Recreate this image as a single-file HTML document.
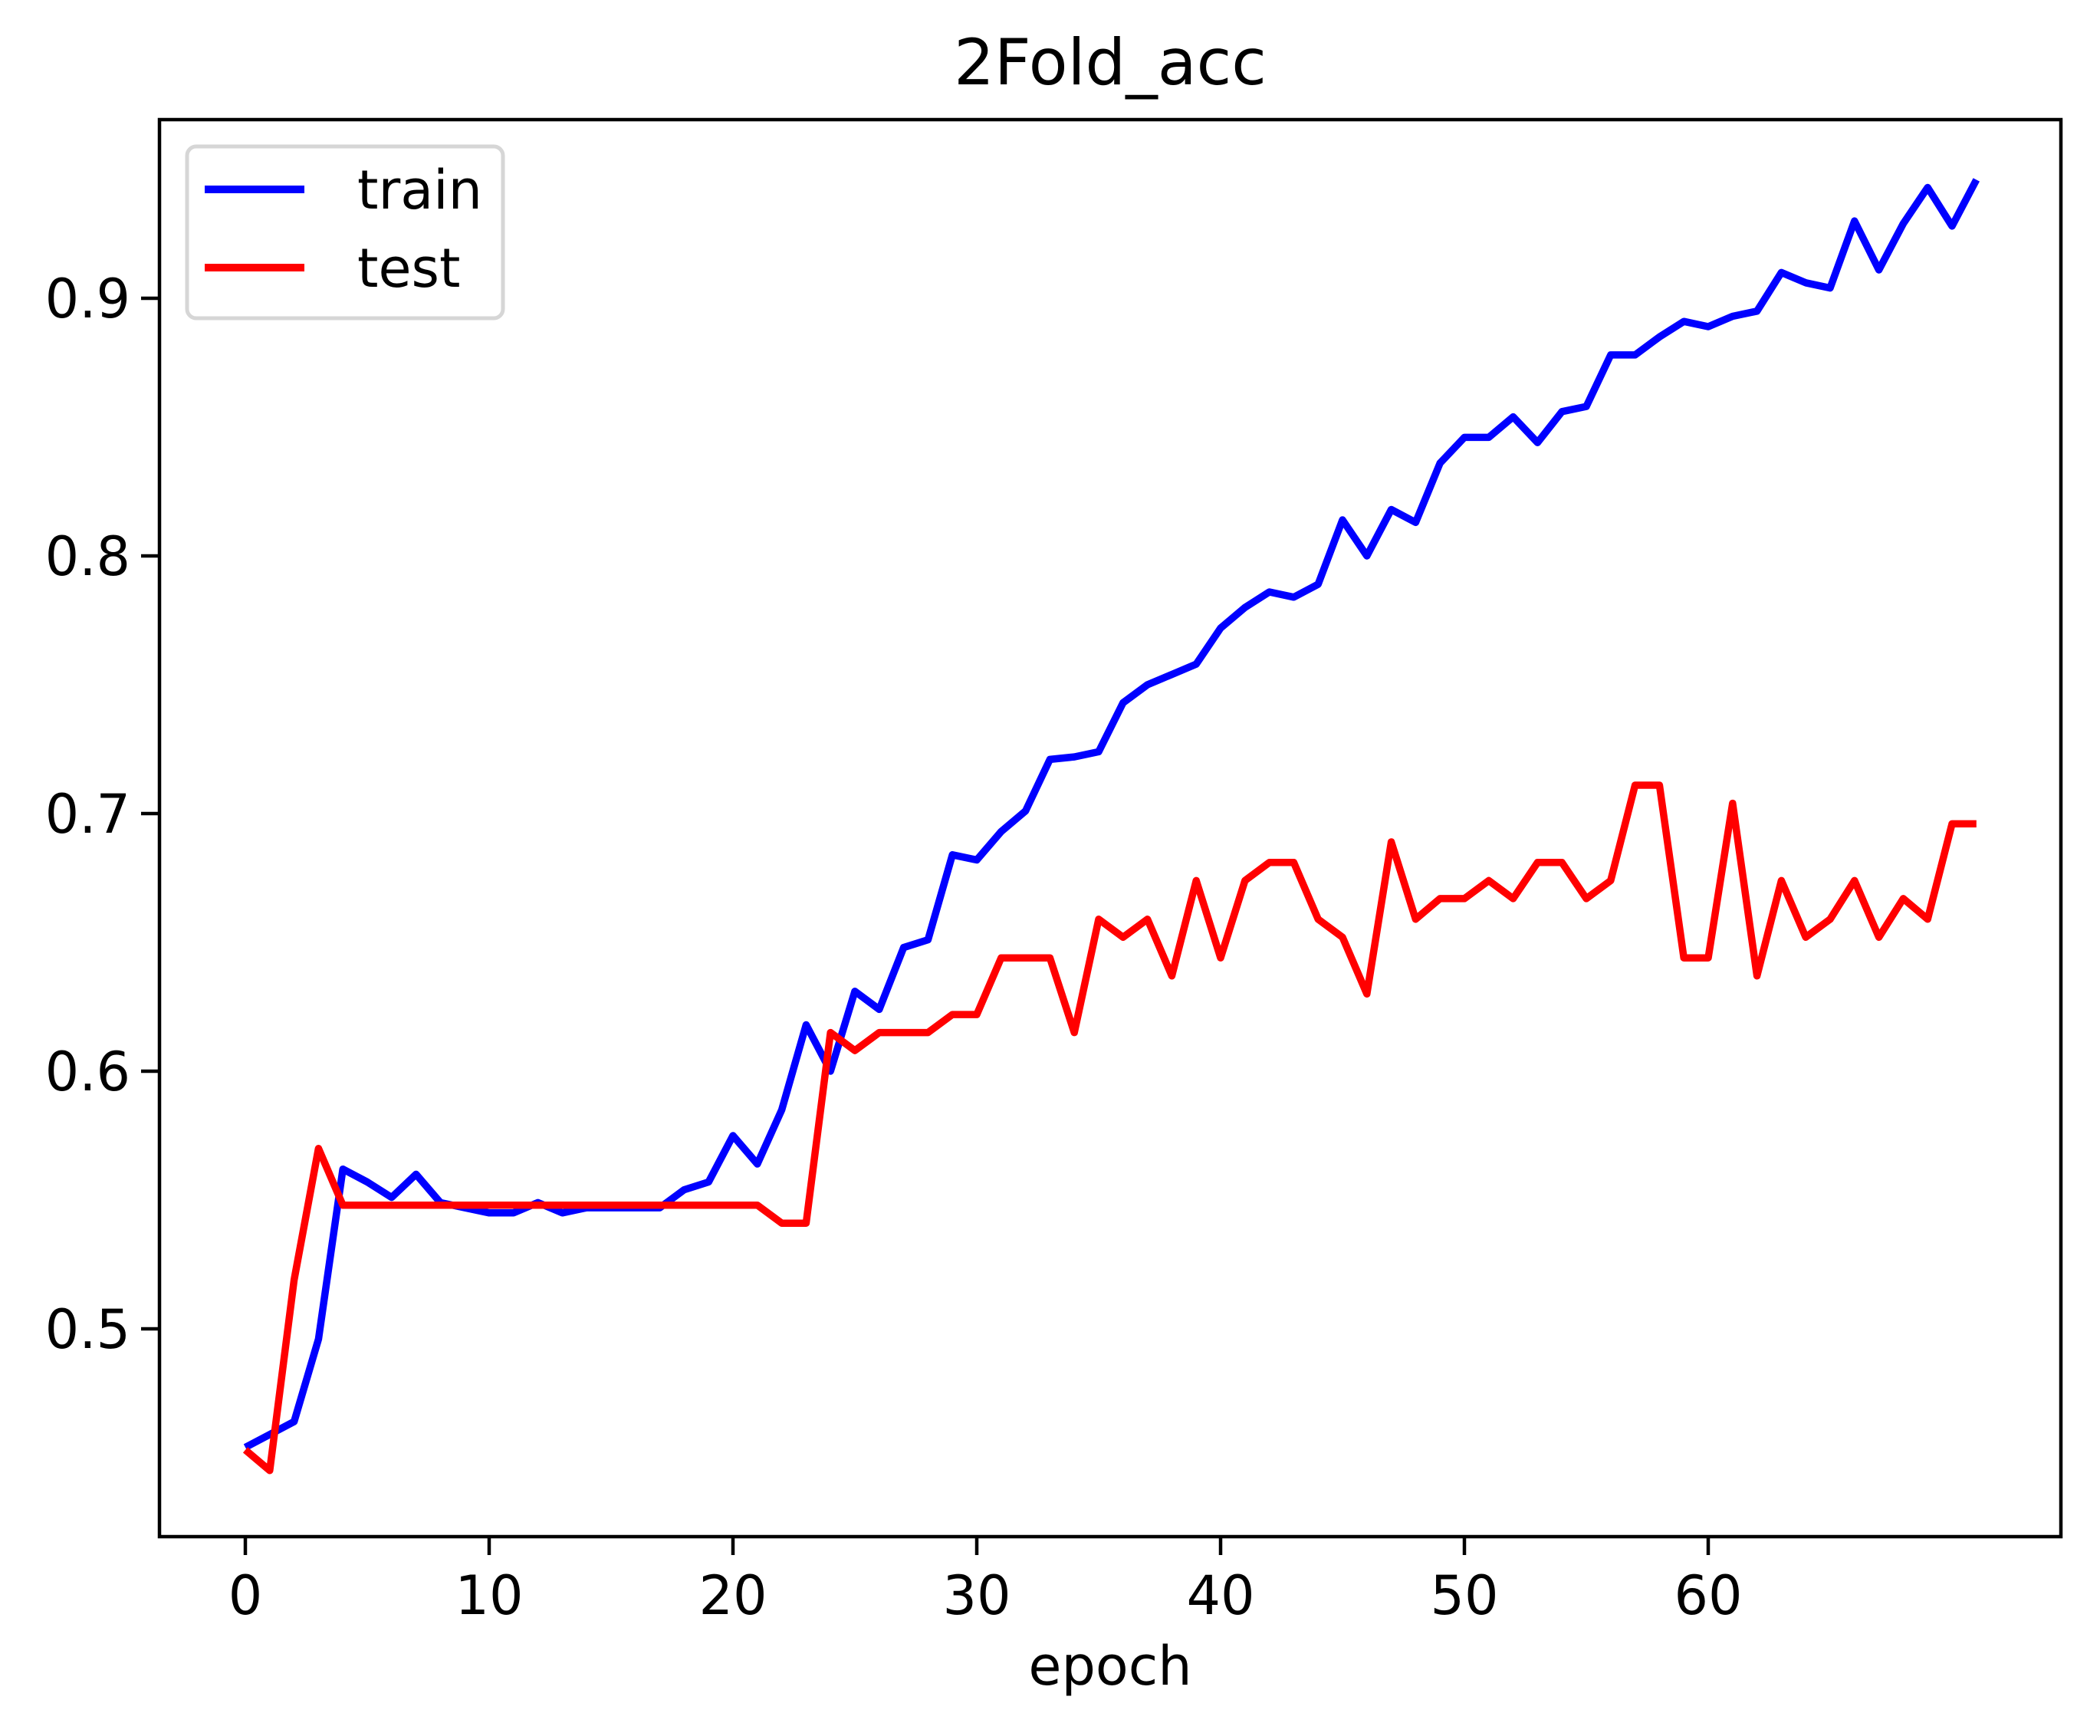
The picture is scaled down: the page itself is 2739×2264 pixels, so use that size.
<!DOCTYPE html>
<html><head><meta charset="utf-8"><style>
html,body{margin:0;padding:0;background:#fff;}
svg{display:block;font-family:"DejaVu Sans","Liberation Sans",sans-serif;}
</style></head><body>
<svg id="chart" width="2739" height="2264" viewBox="0 0 2739 2264" xmlns="http://www.w3.org/2000/svg">
<rect width="2739" height="2264" fill="#fff"/>
<text x="1448" y="110" font-size="83" text-anchor="middle">2Fold_acc</text>
<g id="lines"></g>
<g id="axes"></g>
<rect x="208" y="156" width="2480" height="1848" fill="none" stroke="#000" stroke-width="4.5"/>
<g>
<rect x="244" y="191" width="412" height="224" rx="12" fill="#fff" fill-opacity="0.8" stroke="#d6d6d6" stroke-width="5"/>
<line x1="267" y1="247" x2="397" y2="247" stroke="#0000ff" stroke-width="10"/>
<text x="466" y="272" font-size="70">train</text>
<line x1="267" y1="349" x2="397" y2="349" stroke="#ff0000" stroke-width="10"/>
<text x="466" y="374" font-size="70">test</text>
</g>
<text x="1448" y="2197" font-size="70" text-anchor="middle">epoch</text>
</svg>
<script>
const train = [0.454,0.459,0.464,0.496,0.562,0.557,0.551,0.560,0.549,0.547,0.545,0.545,0.549,0.545,0.547,0.547,0.547,0.547,0.554,0.557,0.575,0.564,0.585,0.618,0.600,0.631,0.624,0.648,0.651,0.684,0.682,0.693,0.701,0.721,0.722,0.724,0.743,0.750,0.754,0.758,0.772,0.780,0.786,0.784,0.789,0.814,0.800,0.818,0.813,0.836,0.846,0.846,0.854,0.844,0.856,0.858,0.878,0.878,0.885,0.891,0.889,0.893,0.895,0.910,0.906,0.904,0.930,0.911,0.929,0.943,0.928,0.946];
const test = [0.453,0.445,0.519,0.570,0.548,0.548,0.548,0.548,0.548,0.548,0.548,0.548,0.548,0.548,0.548,0.548,0.548,0.548,0.548,0.548,0.548,0.548,0.541,0.541,0.615,0.608,0.615,0.615,0.615,0.622,0.622,0.644,0.644,0.644,0.615,0.659,0.652,0.659,0.637,0.674,0.644,0.674,0.681,0.681,0.659,0.652,0.630,0.689,0.659,0.667,0.667,0.674,0.667,0.681,0.681,0.667,0.674,0.711,0.711,0.644,0.644,0.704,0.637,0.674,0.652,0.659,0.674,0.652,0.667,0.659,0.696,0.696];
const xTicks = [0,10,20,30,40,50,60];
const yTicks = [0.5,0.6,0.7,0.8,0.9];
const yTickLabels = ["0.5","0.6","0.7","0.8","0.9"];

const X0 = 208, X1 = 2688, Y0 = 156, Y1 = 2004;
function xs(v){ return 320 + v * 31.8; }
function ys(v){ return 389 + (0.9 - v) * 3360; }

const NS = "http://www.w3.org/2000/svg";
const lines = document.getElementById('lines');
function addLine(data, color, name){
  const p = document.createElementNS(NS, 'polyline');
  p.setAttribute('points', data.map((v,i)=>xs(i).toFixed(1)+','+ys(v).toFixed(1)).join(' '));
  p.setAttribute('fill','none');
  p.setAttribute('stroke',color);
  p.setAttribute('stroke-width','9.5');
  p.setAttribute('stroke-linejoin','round');
  
  
  lines.appendChild(p);
}
addLine(train, '#0000ff', 'train-line');
addLine(test, '#ff0000', 'test-line');

const axes = document.getElementById('axes');
xTicks.forEach(t=>{
  const l = document.createElementNS(NS,'line');
  l.setAttribute('x1', xs(t)); l.setAttribute('x2', xs(t));
  l.setAttribute('y1', Y1); l.setAttribute('y2', Y1+24);
  l.setAttribute('stroke','#000'); l.setAttribute('stroke-width','4.5');
  
  
  axes.appendChild(l);
  const tx = document.createElementNS(NS,'text');
  tx.setAttribute('x', xs(t)); tx.setAttribute('y', 2105);
  tx.setAttribute('font-size','70'); tx.setAttribute('text-anchor','middle');
  tx.textContent = String(t);
  
  
  axes.appendChild(tx);
});
yTicks.forEach((t,i)=>{
  const l = document.createElementNS(NS,'line');
  l.setAttribute('x1', X0-24); l.setAttribute('x2', X0);
  l.setAttribute('y1', ys(t)); l.setAttribute('y2', ys(t));
  l.setAttribute('stroke','#000'); l.setAttribute('stroke-width','4.5');
  
  
  axes.appendChild(l);
  const tx = document.createElementNS(NS,'text');
  tx.setAttribute('x', X0-38); tx.setAttribute('y', ys(t)+25);
  tx.setAttribute('font-size','70'); tx.setAttribute('text-anchor','end');
  tx.textContent = yTickLabels[i];
  
  
  axes.appendChild(tx);
});
</script>
</body></html>
